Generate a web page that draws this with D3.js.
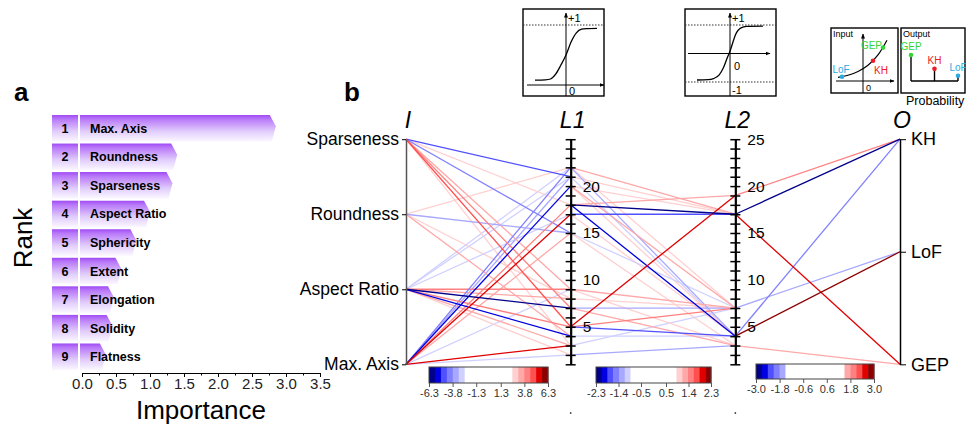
<!DOCTYPE html>
<html>
<head>
<meta charset="utf-8">
<script src="https://cdn.jsdelivr.net/npm/d3@7"></script>
<style>
  body { margin: 0; background: #fff; }
  svg { display: block; font-family: 'Liberation Sans', Arial, Helvetica, sans-serif; }
</style>
</head>
<body>
<div id="chart"></div>
<script>
// ---- panel a: feature importance ranking ----
const features = ['Max. Axis', 'Roundness', 'Sparseness', 'Aspect Ratio', 'Sphericity', 'Extent', 'Elongation', 'Solidity', 'Flatness'];
const importance = [2.85, 1.40, 1.33, 1.00, 0.80, 0.58, 0.47, 0.45, 0.35];
const importanceTicks = [0, 0.5, 1, 1.5, 2, 2.5, 3, 3.5];
const importanceMinor = [0.25, 0.75, 1.25, 1.75, 2.25, 2.75, 3.25];

// ---- panel b: network weights ----
const layers = ['I', 'L1', 'L2', 'O'];
const inputNodes = ['Max. Axis', 'Aspect Ratio', 'Roundness', 'Sparseness'];
const outputNodes = ['GEP', 'LoF', 'KH'];
const neuronTicks = [1, 2, 3, 4, 5, 6, 7, 8, 9, 10, 11, 12, 13, 14, 15, 16, 17, 18, 19, 20, 21, 22, 23, 24, 25];

// [input feature, L1 neuron, weight]
const edgesIL1 = [
  ['Sparseness', 21, -4.6], ['Sparseness', 15, -4.0], ['Sparseness', 18, 3.0],
  ['Sparseness', 9, 3.3], ['Sparseness', 7, 4.3], ['Sparseness', 5, 4.6], ['Sparseness', 3, 3.0],
  ['Roundness', 22, 3.0], ['Roundness', 15, -3.5], ['Roundness', 4, 3.4], ['Roundness', 8, 2.9],
  ['Aspect Ratio', 22, -2.9], ['Aspect Ratio', 21, -3.1], ['Aspect Ratio', 17, -2.9],
  ['Aspect Ratio', 9, 4.2], ['Aspect Ratio', 8, 3.4], ['Aspect Ratio', 7, -6.0],
  ['Aspect Ratio', 5, 4.4], ['Aspect Ratio', 4, -5.3], ['Aspect Ratio', 3, 3.5], ['Aspect Ratio', 2, 3.0],
  ['Max. Axis', 3, 5.5], ['Max. Axis', 2, -2.9], ['Max. Axis', 20, -5.6], ['Max. Axis', 22, -4.2],
  ['Max. Axis', 21, -3.2], ['Max. Axis', 17, 5.6], ['Max. Axis', 18, 4.2], ['Max. Axis', 15, 3.4],
  ['Max. Axis', 9, -2.9]
];
// [L1 neuron, L2 neuron, weight]
const edgesL1L2 = [
  [22, 17, 1.3], [21, 17, 1.1], [20, 17, 1.1], [18, 17, -2.2], [17, 17, -1.7], [18, 19, 1.2],
  [18, 4, -2.0], [5, 19, 2.0], [5, 7, 1.6], [5, 4, -1.7], [22, 4, -1.3], [21, 4, -1.1],
  [22, 7, 1.1], [20, 7, 1.3], [20, 4, 1.1], [17, 4, 1.1], [15, 7, -1.1], [15, 3, 1.1],
  [9, 7, 1.3], [8, 7, 1.1], [7, 7, -1.2], [4, 4, -1.1], [2, 3, -1.2], [3, 7, -1.1],
  [9, 3, 1.1], [7, 3, 1.2]
];
// [L2 neuron, output class, weight]
const edgesL2O = [
  [19, 'KH', 1.9], [17, 'KH', -2.85], [17, 'GEP', 2.55], [4, 'KH', -1.9],
  [7, 'LoF', -1.6], [4, 'LoF', 2.85], [3, 'GEP', 1.6]
];

const w1Max = 6.3, w2Max = 2.3, w3Max = 3.0;
const cb1Ticks = [-6.3, -3.8, -1.3, 1.3, 3.8, 6.3];
const cb2Ticks = [-2.3, -1.4, -0.5, 0.5, 1.4, 2.3];
const cb3Ticks = [-3.0, -1.8, -0.6, 0.6, 1.8, 3.0];

// ---- icons: activation / softmax sketches ----
const sigmoidPts = [[-6, 0.08], [-4, 0.085], [-3, 0.1], [-2, 0.18], [-1, 0.33], [0, 0.5], [1, 0.72], [2, 0.87], [3, 0.93], [4, 0.94], [6, 0.945]];
const tanhPts = [[-6, -0.93], [-4, -0.92], [-3, -0.88], [-2, -0.76], [-1.2, -0.5], [-0.5, -0.15], [0, 0.08], [0.5, 0.38], [1, 0.66], [2, 0.9], [3, 0.95], [6, 0.96]];
const expPts = [[-1.25, 0.29], [-0.75, 0.47], [-0.25, 0.78], [0.25, 1.28], [0.75, 2.12], [1.2, 3.32]];
const classes = ['LoF', 'KH', 'GEP'];
const classColors = ['#29abe2', '#ed1c24', '#33d633'];
const inputLogit = [-1.05, 0.5, 1.0];
const inputValue = [0.35, 1.65, 2.72];
const outputOrder = ['GEP', 'KH', 'LoF'];
const outputProb = [0.60, 0.28, 0.12];

const blues = ['#00008b', '#0000e0', '#5050ff', '#8080ff', '#a8a8ff', '#d0d0ff'];
const reds = ['#ffd0d0', '#ffa8a8', '#ff8080', '#ff5050', '#e00000', '#8b0000'];

function palette(nColored) {
  const whites = d3.range(20 - 2 * nColored).map(() => '#ffffff');
  return blues.slice(0, nColored).concat(whites, reds.slice(6 - nColored));
}

const svg = d3.select('#chart').append('svg')
  .attr('width', 966)
  .attr('height', 428);

const defs = svg.append('defs');
const grad = defs.append('linearGradient')
  .attr('id', 'barGrad')
  .attr('x1', 0).attr('y1', 0).attr('x2', 0).attr('y2', 1);
[[0, '#a04af4'], [0.15, '#b877f8'], [0.6, '#e0cbfc'], [1, '#fbf8ff']].forEach(function(s) {
  grad.append('stop').attr('offset', s[0]).attr('stop-color', s[1]);
});
defs.append('marker')
  .attr('id', 'arrowHead')
  .attr('viewBox', '0 0 10 10')
  .attr('refX', 9).attr('refY', 5)
  .attr('markerWidth', 5).attr('markerHeight', 5)
  .attr('orient', 'auto')
  .append('path')
  .attr('d', 'M0,1L10,5L0,9Z')
  .attr('fill', '#000');

// =================== panel a ===================
const xImp = d3.scaleLinear().domain([0, 3.5]).range([82, 320]);
const yRank = d3.scaleBand().domain(features).range([115, 370]).paddingInner(0.07);
const bh = yRank.bandwidth();

const panelA = svg.append('g');

panelA.append('text')
  .attr('x', 14).attr('y', 101)
  .attr('font-size', 26).attr('font-weight', 'bold')
  .text('a');

const rows = panelA.selectAll('g.row')
    .data(features)
  .enter().append('g')
    .attr('class', 'row')
    .attr('transform', function(d) { return `translate(0, ${yRank(d)})`; });

rows.append('rect')
  .attr('x', 52)
  .attr('width', 26)
  .attr('height', bh)
  .attr('fill', 'url(#barGrad)');

// bars end in a small arrow tip
rows.append('path')
  .attr('d', function(d, i) {
    const x0 = xImp(0) - 2;
    const xe = xImp(importance[i]);
    return `M${x0},0H${xe - 6}L${xe},${bh * 0.42}L${xe - 4},${bh}H${x0}Z`;
  })
  .attr('fill', 'url(#barGrad)');

rows.append('text')
  .attr('x', 65)
  .attr('y', bh / 2 + 4.5)
  .attr('text-anchor', 'middle')
  .attr('font-size', 12.5)
  .attr('font-weight', 'bold')
  .text(function(d, i) { return i + 1; });

rows.append('text')
  .attr('x', 90)
  .attr('y', bh / 2 + 4.5)
  .attr('font-size', 12.5)
  .attr('font-weight', 'bold')
  .text(function(d) { return d; });

const axisA = panelA.append('g')
  .attr('transform', 'translate(0, 373)')
  .call(d3.axisBottom(xImp)
    .tickValues(importanceTicks)
    .tickFormat(function(d) { return d.toFixed(1); })
    .tickSize(4)
    .tickSizeOuter(0)
    .tickPadding(1));
axisA.selectAll('text').attr('font-size', 15).attr('font-family', null).attr('fill', '#222');

panelA.append('g')
  .attr('transform', 'translate(0, 373)')
  .call(d3.axisBottom(xImp).tickValues(importanceMinor).tickFormat('').tickSize(2.5))
  .select('.domain').remove();

panelA.append('text')
  .attr('x', 201).attr('y', 419)
  .attr('text-anchor', 'middle')
  .attr('font-size', 26)
  .text('Importance');

panelA.append('text')
  .attr('transform', 'translate(32, 238) rotate(-90)')
  .attr('text-anchor', 'middle')
  .attr('font-size', 26)
  .text('Rank');

// =================== panel b ===================
const xLayer = d3.scalePoint().domain(layers).range([406, 900]);
const yNeuron = d3.scaleLinear().domain([1, 25]).range([364.3, 139.2]);
const yInput = d3.scalePoint().domain(inputNodes).range([364.3, 139.2]);
const yOutput = d3.scalePoint().domain(outputNodes).range([364.3, 139.2]);

const color1 = d3.scaleQuantize().domain([-w1Max, w1Max]).range(palette(6));
const color2 = d3.scaleQuantize().domain([-w2Max, w2Max]).range(palette(6));
const color3 = d3.scaleQuantize().domain([-w3Max, w3Max]).range(palette(5));

svg.append('text')
  .attr('x', 344).attr('y', 101)
  .attr('font-size', 26).attr('font-weight', 'bold')
  .text('b');

const netLines = svg.append('g')
  .attr('fill', 'none')
  .attr('stroke-width', 1.3);

function drawEdges(edges, xa, xb, ySrc, yTgt, color) {
  const sorted = edges.slice().sort(function(a, b) { return Math.abs(a[2]) - Math.abs(b[2]); });
  netLines.append('g').selectAll('line')
      .data(sorted)
    .enter().append('line')
      .attr('x1', xa)
      .attr('x2', xb)
      .attr('y1', function(d) { return ySrc(d[0]); })
      .attr('y2', function(d) { return yTgt(d[1]); })
      .attr('stroke', function(d) { return color(d[2]); });
}

drawEdges(edgesIL1, xLayer('I'), xLayer('L1'), yInput, yNeuron, color1);
drawEdges(edgesL1L2, xLayer('L1'), xLayer('L2'), yNeuron, yNeuron, color2);
drawEdges(edgesL2O, xLayer('L2'), xLayer('O'), yNeuron, yOutput, color3);

// input axis
const axisI = svg.append('g')
  .attr('transform', `translate(${xLayer('I')}, 0)`)
  .call(d3.axisLeft(yInput).tickSize(4).tickSizeOuter(0).tickPadding(3));
axisI.select('.domain').attr('stroke', '#555').attr('stroke-width', 1.5);
axisI.selectAll('text').attr('font-size', 17.5).attr('font-family', null).attr('fill', '#000');

// hidden layer axes, ticks cross the line
function neuronAxis(layer, showTop) {
  const g = svg.append('g')
    .attr('transform', `translate(${xLayer(layer)}, 0)`)
    .call(d3.axisRight(yNeuron)
      .tickValues(neuronTicks)
      .tickSize(5)
      .tickSizeOuter(0)
      .tickPadding(7)
      .tickFormat(function(d) { return (d % 5 === 0 && (showTop || d < 25)) ? d : ''; }));
  g.select('.domain').attr('stroke-width', 2.2);
  g.selectAll('.tick line').attr('x1', -5).attr('stroke-width', 1.5);
  g.selectAll('text').attr('font-size', 15.5).attr('font-family', null).attr('fill', '#000');
}
neuronAxis('L1', false);
neuronAxis('L2', true);

// output axis
const axisO = svg.append('g')
  .attr('transform', `translate(${xLayer('O')}, 0)`)
  .call(d3.axisRight(yOutput).tickSize(6).tickSizeOuter(0).tickPadding(5));
axisO.select('.domain').attr('stroke-width', 1.5);
axisO.selectAll('text').attr('font-size', 18).attr('font-family', null).attr('fill', '#000');

// layer headers
svg.selectAll('text.layer')
    .data(layers)
  .enter().append('text')
    .attr('class', 'layer')
    .attr('x', function(d) { return xLayer(d) + 2; })
    .attr('y', 128)
    .attr('text-anchor', 'middle')
    .attr('font-size', 23)
    .attr('font-style', 'italic')
    .text(function(d) { return d; });

// colour bars under each weight block
function colorBar(x0, x1, y, h, wMax, nColored, ticks) {
  const pal = palette(nColored);
  const sx = d3.scaleLinear().domain([-wMax, wMax]).range([x0, x1]);
  const step = (2 * wMax) / pal.length;
  const g = svg.append('g');
  g.selectAll('rect.bin')
      .data(pal)
    .enter().append('rect')
      .attr('class', 'bin')
      .attr('x', function(d, i) { return sx(-wMax + i * step); })
      .attr('y', y)
      .attr('width', (x1 - x0) / pal.length + 0.4)
      .attr('height', h)
      .attr('fill', function(d) { return d; });
  g.append('rect')
    .attr('x', x0).attr('y', y)
    .attr('width', x1 - x0).attr('height', h)
    .attr('fill', 'none')
    .attr('stroke', '#444');
  // plain hyphen minus, as in the original labels
  const ax = g.append('g')
    .attr('transform', `translate(0, ${y + h})`)
    .call(d3.axisBottom(sx).tickValues(ticks).tickFormat(function(d) { return d.toFixed(1); }).tickSize(4).tickPadding(2));
  ax.select('.domain').remove();
  ax.selectAll('text').attr('font-size', 11).attr('font-family', null).attr('fill', '#333');
  ax.selectAll('line').attr('stroke', '#555');
}
colorBar(429, 548, 367, 16, w1Max, 6, cb1Ticks);
colorBar(596, 711, 367, 16, w2Max, 6, cb2Ticks);
colorBar(756, 874, 364, 15, w3Max, 5, cb3Ticks);

// tiny stray dots under the hidden axes
svg.selectAll('circle.dot')
    .data(['L1', 'L2'])
  .enter().append('circle')
    .attr('cx', function(d) { return xLayer(d); })
    .attr('cy', 413)
    .attr('r', 0.9)
    .attr('fill', '#444');

// =================== icons ===================
const icons = svg.append('g').attr('fill', 'none').attr('stroke', '#000');

function box(x, y, w, h) {
  icons.append('rect').attr('x', x).attr('y', y).attr('width', w).attr('height', h).attr('stroke-width', 1.4);
}
function seg(x1, y1, x2, y2, opts) {
  const l = icons.append('line').attr('x1', x1).attr('y1', y1).attr('x2', x2).attr('y2', y2).attr('stroke-width', 1);
  if (opts === 'arrow') l.attr('marker-end', 'url(#arrowHead)');
  if (opts === 'dot') l.attr('stroke-dasharray', '1.5,1.5').attr('stroke', '#333');
  return l;
}
function label(x, y, txt, size, fill, anchor) {
  svg.append('text').attr('x', x).attr('y', y).attr('font-size', size)
    .attr('fill', fill || '#000').attr('text-anchor', anchor || 'start').text(txt);
}

// sigmoid
const sx1 = d3.scaleLinear().domain([-6, 6]).range([535, 597]);
const sy1 = d3.scaleLinear().domain([0, 1]).range([85, 25]);
box(523, 9, 81, 87);
seg(523, sy1(1), 604, sy1(1), 'dot');
seg(527, sy1(0), 604, sy1(0), 'arrow');
seg(sx1(0), 96, sx1(0), 13, 'arrow');
icons.append('path')
  .attr('d', d3.line().x(function(d) { return sx1(d[0]); }).y(function(d) { return sy1(d[1]); }).curve(d3.curveMonotoneX)(sigmoidPts))
  .attr('stroke-width', 1.3);
label(sx1(0) + 2, 22, '+1', 11);
label(sx1(0) + 3, 95, '0', 11);

// tanh
const sx2 = d3.scaleLinear().domain([-6, 6]).range([697, 763]);
const sy2 = d3.scaleLinear().domain([-1, 1]).range([82, 25]);
box(685, 9, 91, 87);
seg(685, sy2(1), 776, sy2(1), 'dot');
seg(685, sy2(-1), 776, sy2(-1), 'dot');
seg(688, sy2(0), 770, sy2(0), 'arrow');
seg(sx2(0), 96, sx2(0), 13, 'arrow');
icons.append('path')
  .attr('d', d3.line().x(function(d) { return sx2(d[0]); }).y(function(d) { return sy2(d[1]); }).curve(d3.curveMonotoneX)(tanhPts))
  .attr('stroke-width', 1.3);
label(sx2(0) + 2, 22, '+1', 11);
label(sx2(0) + 4, 70, '0', 11);
label(sx2(0) + 2, 94, '-1', 11);

// softmax input
const sx3 = d3.scaleLinear().domain([-2, 2]).range([823, 903]);
const sy3 = d3.scaleLinear().domain([0, 3.5]).range([81, 38]);
box(831, 28, 67, 65);
seg(836, sy3(0), 894, sy3(0), 'arrow');
seg(sx3(0), 93, sx3(0), 34, 'arrow');
icons.append('path')
  .attr('d', d3.line().x(function(d) { return sx3(d[0]); }).y(function(d) { return sy3(d[1]); }).curve(d3.curveMonotoneX)(expPts))
  .attr('stroke-width', 1.2);
label(833, 37, 'Input', 9);
label(sx3(0) + 3, 91, '0', 9);
const inLabelDx = { LoF: -1, KH: 1, GEP: -1 };
const inLabelDy = { LoF: -4, KH: 13, GEP: 1 };
const inAnchor = { LoF: 'middle', KH: 'start', GEP: 'end' };
classes.forEach(function(c, i) {
  svg.append('circle').attr('cx', sx3(inputLogit[i])).attr('cy', sy3(inputValue[i])).attr('r', 2.3).attr('fill', classColors[i]);
  label(sx3(inputLogit[i]) + inLabelDx[c], sy3(inputValue[i]) + inLabelDy[c], c, 10, classColors[i], inAnchor[c]);
});

// softmax output
const sxO = d3.scalePoint().domain(outputOrder).range([911, 958]);
const syO = d3.scaleLinear().domain([0, 0.6]).range([81, 55]);
box(901, 28, 64, 65);
label(903, 37, 'Output', 9);
icons.append('line').attr('x1', sxO('GEP')).attr('x2', sxO('LoF')).attr('y1', syO(0)).attr('y2', syO(0)).attr('stroke-width', 1.4);
outputOrder.forEach(function(c, i) {
  const col = classColors[classes.indexOf(c)];
  icons.append('line').attr('x1', sxO(c)).attr('x2', sxO(c)).attr('y1', syO(0)).attr('y2', syO(outputProb[i])).attr('stroke-width', 1.4);
  svg.append('circle').attr('cx', sxO(c)).attr('cy', syO(outputProb[i])).attr('r', 2.3).attr('fill', col);
  label(sxO(c), syO(outputProb[i]) - 5, c, 10, col, 'middle');
});
label(906, 105, 'Probability', 12.5);
</script>
</body>
</html>
